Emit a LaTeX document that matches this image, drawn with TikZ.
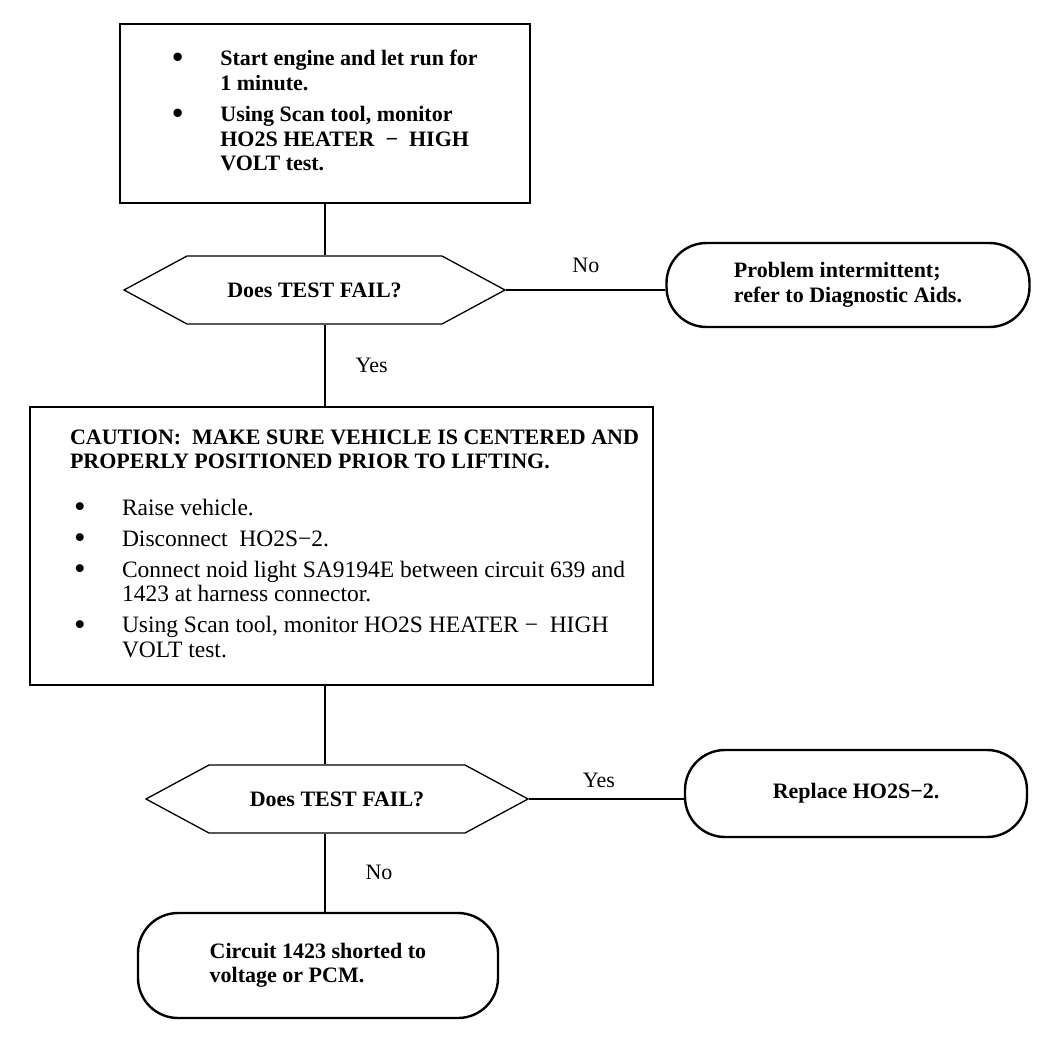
\documentclass[tikz,border=0pt]{standalone}
\usepackage{fontspec}
\setmainfont{Liberation Serif}
\usepackage{graphicx}
\usepackage{array}
\usetikzlibrary{shapes.symbols}

\newcommand{\bul}{\raisebox{-0.2ex}{\scalebox{1.4}{\textbullet}}}

\begin{document}
\begin{tikzpicture}[
x=1pt, y=-1pt,
every node/.style={font=\fontsize{22}{24.5}\selectfont\bfseries},
boxstep/.style={draw, rectangle, line width=1.6pt, inner sep=0pt},
decide/.style={draw, signal, signal to=west and east, signal pointer angle=56.7, line width=1.3pt, inner sep=0pt, minimum height=68pt},
endstep/.style={draw, rectangle, rounded corners=40pt, line width=2.4pt, inner sep=0pt, align=left},
conn/.style={line width=1.2pt},
lbl/.style={font=\fontsize{22}{24.5}\selectfont, inner sep=0pt}
]
\useasboundingbox (0,0) rectangle (1056,1048);

% first checks
\node[boxstep, minimum width=410pt, minimum height=179pt] (B1) at (325,113.5) {%
\begin{tabular}{@{}p{48pt}@{}l@{}}
\bul & Start engine and let run for\\
     & 1 minute.\\[7pt]
\bul & Using Scan tool, monitor\\
     & HO2S HEATER \ − \ HIGH\\
     & VOLT test.
\end{tabular}};
\node[decide, minimum width=381pt] (D1) at (314.5,290) {Does TEST FAIL?};
\node[endstep, minimum width=363pt, minimum height=84pt] (E1) at (848,285) {Problem intermittent;\\refer to Diagnostic Aids.};

\draw[conn] (B1.south) -- (B1.south |- D1.north);
\draw[conn] (D1.east) -- node[lbl, above=17pt] (no1) {No} (D1.east -| E1.west);

% caution box and noid light test
\node[boxstep, minimum width=623pt, minimum height=278pt] (B2) at (341.5,546) {\makebox[543pt][l]{%
\begin{tabular}{@{}>{\mdseries\fontsize{23.5}{24.5}\selectfont}p{52pt}@{}>{\mdseries\fontsize{23.5}{24.5}\selectfont}l@{}}
\multicolumn{2}{@{}l@{}}{CAUTION:\ \ MAKE SURE VEHICLE IS CENTERED AND}\\
\multicolumn{2}{@{}l@{}}{PROPERLY POSITIONED PRIOR TO LIFTING.}\\[22pt]
\hspace{4pt}\bul & Raise vehicle.\\[6.5pt]
\hspace{4pt}\bul & Disconnect\ \ HO2S−2.\\[6.5pt]
\hspace{4pt}\bul & Connect noid light SA9194E between circuit 639 and\\
                 & 1423 at harness connector.\\[6.5pt]
\hspace{4pt}\bul & Using Scan tool, monitor HO2S HEATER\ − \ HIGH\\
                 & VOLT test.
\end{tabular}}};
\draw[conn] (B1.south |- D1.south) -- node[lbl, right=30pt] (yes1) {Yes} (B1.south |- B2.north);

\node[decide, minimum width=382pt] (D2) at (337,799) {Does TEST FAIL?};
\node[endstep, minimum width=342pt, minimum height=87pt] (E2) at (856,793.5) {Replace HO2S−2.};
\node[endstep, minimum width=360pt, minimum height=105pt] (E3) at (318,965.5) {Circuit 1423 shorted to\\voltage or PCM.};

\draw[conn] (B1.south |- B2.south) -- (B1.south |- D2.north);
\draw[conn] (D2.east) -- node[lbl, above=11pt, pos=0.45] (yes2) {Yes} (D2.east -| E2.west);
\draw[conn] (B1.south |- D2.south) -- node[lbl, right=40pt] (no2) {No} (B1.south |- E3.north);

\end{tikzpicture}
\end{document}
